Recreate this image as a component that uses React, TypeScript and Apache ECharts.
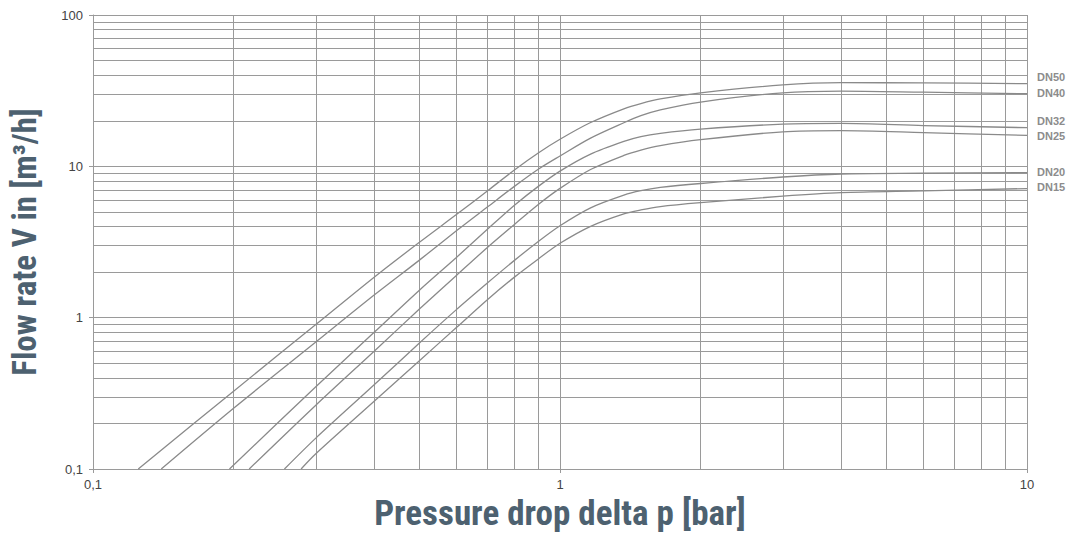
import React, { useEffect, useRef } from "react";
import * as echarts from "echarts";

// Curves: [pressure drop (bar), flow rate (m3/h)]
const seriesNames = ["DN50", "DN40", "DN32", "DN25", "DN20", "DN15"];

const dn50 = [[0.125, 0.1], [0.2, 0.327], [0.3, 0.9], [0.4, 1.85], [0.5, 3.15], [0.6, 4.8], [0.7, 6.9], [0.8, 9.5], [0.9, 12.3], [1.0, 15.1], [1.16, 19.4], [1.37, 24.0], [1.49, 26.0], [1.64, 27.9], [2, 30.6], [3, 34.5], [4, 35.7], [6, 35.6], [10, 35.2]];
const dn40 = [[0.14, 0.1], [0.2, 0.252], [0.3, 0.69], [0.4, 1.41], [0.5, 2.4], [0.6, 3.75], [0.7, 5.4], [0.8, 7.4], [0.9, 9.6], [1.0, 11.7], [1.16, 15.3], [1.37, 19.4], [1.49, 21.6], [1.64, 23.6], [2, 26.6], [3, 30.6], [4, 31.4], [6, 30.9], [10, 30.2]];
const dn32 = [[0.196, 0.1], [0.3, 0.35], [0.4, 0.8], [0.5, 1.52], [0.6, 2.5], [0.7, 3.85], [0.8, 5.55], [0.9, 7.4], [1.0, 9.3], [1.16, 12.0], [1.37, 14.6], [1.49, 15.7], [1.64, 16.5], [2, 17.6], [3, 19.0], [4, 19.2], [6, 18.6], [10, 18.0]];
const dn25 = [[0.216, 0.1], [0.3, 0.264], [0.4, 0.6], [0.5, 1.14], [0.6, 1.9], [0.7, 2.92], [0.8, 4.15], [0.9, 5.62], [1.0, 7.15], [1.16, 9.5], [1.37, 11.8], [1.49, 12.8], [1.64, 13.7], [2, 15.0], [3, 16.9], [4, 17.2], [6, 16.7], [10, 16.0]];
const dn20 = [[0.257, 0.1], [0.3, 0.16], [0.4, 0.36], [0.5, 0.68], [0.6, 1.13], [0.7, 1.7], [0.8, 2.4], [0.9, 3.2], [1.0, 4.05], [1.16, 5.3], [1.37, 6.45], [1.49, 6.9], [1.64, 7.25], [2, 7.7], [3, 8.5], [4, 8.9], [6, 9.0], [10, 9.1]];
const dn15 = [[0.279, 0.1], [0.3, 0.126], [0.4, 0.28], [0.5, 0.52], [0.6, 0.86], [0.7, 1.32], [0.8, 1.86], [0.9, 2.45], [1.0, 3.1], [1.16, 4.0], [1.37, 4.85], [1.49, 5.15], [1.64, 5.42], [2, 5.75], [3, 6.35], [4, 6.7], [6, 6.88], [10, 7.13]];

const curves = [dn50, dn40, dn32, dn25, dn20, dn15];

// Minor grid values (log grid)
const xMinorGrid = [0.2, 0.3, 0.4, 0.5, 0.6, 0.7, 0.8, 0.9, 2, 3, 4, 5, 6, 7, 8, 9];
const yMinorGrid = [0.2, 0.3, 0.4, 0.5, 0.6, 0.7, 0.8, 0.9, 2, 3, 4, 5, 6, 7, 8, 9, 20, 30, 40, 50, 60, 70, 80, 90];

const xAxisTitle = "Pressure drop delta p [bar]";
const yAxisTitle = "Flow rate V in [m³/h]";

// label vertical nudges (layout)
const labelShift = [-7, -1, -7, 1, -1, -2];

const GRID_COLOR = "#9a9a9a";
const CURVE_COLOR = "#8a8a8a";
const TITLE_COLOR = "#4d6170";
const TITLE_FONT = "'Roboto Condensed', 'DejaVu Sans Condensed', 'Liberation Sans Narrow', Roboto, sans-serif";

const fmt = (v: number) => String(Number(v.toPrecision(6))).replace(".", ",");

export default function App() {
  const ref = useRef<HTMLDivElement>(null);
  useEffect(() => {
    document.body.style.margin = "0";
    if (!ref.current) return;
    const chart = echarts.init(ref.current, undefined, { renderer: "svg" });
    const curveSeries = curves.map((d, i) => ({
      name: seriesNames[i],
      type: "line",
      data: d,
      smooth: 0.3,
      symbol: "none",
      lineStyle: { color: CURVE_COLOR, width: 1.3 },
      z: 5,
      endLabel: {
        show: true,
        formatter: seriesNames[i],
        color: "#8c8c8c",
        fontWeight: "bold",
        fontSize: 11,
        fontFamily: "'Liberation Sans', Arial, sans-serif",
        distance: 10,
        offset: [0, labelShift[i]],
      },
    }));
    const gridSeries = {
      type: "line",
      data: [[1, 1]],
      symbol: "none",
      lineStyle: { opacity: 0 },
      silent: true,
      z: 1,
      markLine: {
        silent: true,
        symbol: ["none", "none"],
        label: { show: false },
        animation: false,
        lineStyle: { color: GRID_COLOR, width: 1, type: "solid" },
        emphasis: { disabled: true },
        data: [
          ...xMinorGrid.map((v) => ({ xAxis: v })),
          ...yMinorGrid.map((v) => ({ yAxis: v })),
        ],
      },
    };
    chart.setOption({
      animation: false,
      grid: { left: 92, right: 42, top: 15, bottom: 65, containLabel: false },
      xAxis: {
        type: "log",
        logBase: 10,
        min: 0.1,
        max: 10,
        name: xAxisTitle,
        nameLocation: "middle",
        nameGap: 27,
        nameTextStyle: { color: TITLE_COLOR, fontSize: 35, fontWeight: "bold", fontFamily: TITLE_FONT },
        axisLine: { show: true, lineStyle: { color: GRID_COLOR, width: 1 } },
        axisTick: { show: true, length: 4, lineStyle: { color: GRID_COLOR } },
        axisLabel: { color: "#444", fontSize: 13, margin: 9, fontFamily: "'Liberation Sans', Arial, sans-serif", formatter: fmt },
        splitLine: { show: true, lineStyle: { color: GRID_COLOR, width: 1 } },
        minorTick: { show: false },
      },
      yAxis: {
        type: "log",
        logBase: 10,
        min: 0.1,
        max: 100,
        name: yAxisTitle,
        nameLocation: "middle",
        nameRotate: 90,
        nameGap: 52,
        nameTextStyle: { color: TITLE_COLOR, fontSize: 33, fontWeight: "bold", fontFamily: TITLE_FONT },
        axisLine: { show: true, lineStyle: { color: GRID_COLOR, width: 1 } },
        axisTick: { show: true, length: 4, lineStyle: { color: GRID_COLOR } },
        axisLabel: { color: "#444", fontSize: 13, margin: 10, fontFamily: "'Liberation Sans', Arial, sans-serif", formatter: fmt },
        splitLine: { show: true, lineStyle: { color: GRID_COLOR, width: 1 } },
      },
      series: [gridSeries, ...curveSeries],
    });
    return () => chart.dispose();
  }, []);
  return <div ref={ref} style={{ width: 1069, height: 536 }} />;
}
